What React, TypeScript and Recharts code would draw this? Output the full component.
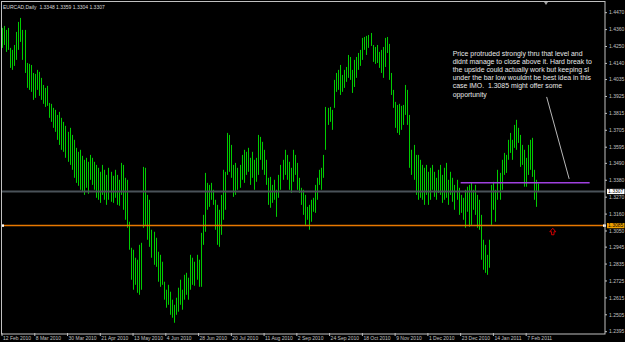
import { ComposedChart, Bar, XAxis, YAxis, ReferenceLine, ReferenceDot } from 'recharts';

const SYMBOL = 'EURCAD,Daily';
const LAST_BAR = ['1.3348', '1.3359', '1.3304', '1.3307'];

const DATE_LABELS = [
    '12 Feb 2010', '8 Mar 2010', '30 Mar 2010', '21 Apr 2010', '13 May 2010', '4 Jun 2010',
    '28 Jun 2010', '20 Jul 2010', '11 Aug 2010', '2 Sep 2010', '24 Sep 2010', '18 Oct 2010',
    '9 Nov 2010', '1 Dec 2010', '23 Dec 2010', '14 Jan 2011', '7 Feb 2011',
];
const LABEL_STEP = 16;

const PRICE_TICKS = [
    1.4470, 1.4360, 1.4250, 1.4140, 1.4035, 1.3925, 1.3815, 1.3705, 1.3595, 1.3490,
    1.3380, 1.3270, 1.3160, 1.3050, 1.2945, 1.2835, 1.2725, 1.2615, 1.2505, 1.2395,
];

// daily highs / lows, Feb 2010 - Feb 2011
const HIGHS = [
    1.4371, 1.4384, 1.4358, 1.4371, 1.4241, 1.4228, 1.4260, 1.4345, 1.4410, 1.4436,
    1.4358, 1.4358, 1.4143, 1.4137, 1.4130, 1.4078, 1.4072, 1.4098, 1.4085, 1.4046,
    1.4000, 1.3981, 1.3994, 1.3883, 1.3877, 1.3851, 1.3838, 1.3805, 1.3825, 1.3786,
    1.3760, 1.3734, 1.3695, 1.3721, 1.3675, 1.3643, 1.3591, 1.3565, 1.3578, 1.3539,
    1.3513, 1.3526, 1.3500, 1.3545, 1.3526, 1.3500, 1.3480, 1.3461, 1.3435, 1.3480,
    1.3448, 1.3415, 1.3461, 1.3435, 1.3409, 1.3448, 1.3415, 1.3383, 1.3493, 1.3480,
    1.3396, 1.3383, 1.3110, 1.2941, 1.2928, 1.2876, 1.2863, 1.2960, 1.2973, 1.3467,
    1.3461, 1.3285, 1.3253, 1.3058, 1.3045, 1.3006, 1.2915, 1.2895, 1.2850, 1.2720,
    1.2668, 1.2700, 1.2655, 1.2603, 1.2570, 1.2616, 1.2681, 1.2733, 1.2668, 1.2765,
    1.2778, 1.2746, 1.2895, 1.2876, 1.2850, 1.2895, 1.2863, 1.3038, 1.3155, 1.3428,
    1.3363, 1.3350, 1.3363, 1.3318, 1.3253, 1.3220, 1.3188, 1.3285, 1.3448, 1.3435,
    1.3688, 1.3675, 1.3610, 1.3480, 1.3493, 1.3461, 1.3480, 1.3545, 1.3578, 1.3565,
    1.3591, 1.3526, 1.3565, 1.3513, 1.3526, 1.3675, 1.3662, 1.3630, 1.3578, 1.3513,
    1.3396, 1.3402, 1.3350, 1.3383, 1.3318, 1.3415, 1.3480, 1.3513, 1.3578, 1.3545,
    1.3500, 1.3461, 1.3578, 1.3545, 1.3493, 1.3396, 1.3331, 1.3318, 1.3285, 1.3207,
    1.3220, 1.3253, 1.3266, 1.3350, 1.3396, 1.3448, 1.3461, 1.3545, 1.3857, 1.3851,
    1.3857, 1.3838, 1.4033, 1.4078, 1.4098, 1.4130, 1.4065, 1.4098, 1.4117, 1.4195,
    1.4182, 1.4098, 1.4163, 1.4182, 1.4208, 1.4228, 1.4306, 1.4312, 1.4319, 1.4325,
    1.4338, 1.4260, 1.4247, 1.4260, 1.4215, 1.4228, 1.4247, 1.4306, 1.4312, 1.4267,
    1.4078, 1.3968, 1.3890, 1.3870, 1.3877, 1.3864, 1.3870, 1.4000, 1.3968, 1.3805,
    1.3578, 1.3610, 1.3545, 1.3545, 1.3513, 1.3480, 1.3461, 1.3480, 1.3435, 1.3461,
    1.3480, 1.3435, 1.3396, 1.3448, 1.3480, 1.3415, 1.3461, 1.3493, 1.3383, 1.3435,
    1.3396, 1.3350, 1.3383, 1.3331, 1.3285, 1.3266, 1.3318, 1.3338, 1.3350, 1.3363,
    1.3318, 1.3350, 1.3285, 1.3253, 1.3155, 1.2993, 1.2960, 1.2895, 1.2993, 1.3350,
    1.3370, 1.3318, 1.3448, 1.3428, 1.3513, 1.3558, 1.3545, 1.3643, 1.3688, 1.3643,
    1.3740, 1.3773, 1.3721, 1.3675, 1.3610, 1.3578, 1.3526, 1.3610, 1.3643, 1.3656,
    1.3448, 1.3383, 1.3359,
];

const LOWS = [
    1.4241, 1.4260, 1.4215, 1.4228, 1.4111, 1.4098, 1.4124, 1.4163, 1.4228, 1.4280,
    1.4163, 1.4078, 1.3981, 1.3968, 1.3955, 1.3903, 1.3916, 1.3968, 1.3929, 1.3903,
    1.3877, 1.3857, 1.3864, 1.3786, 1.3760, 1.3721, 1.3695, 1.3643, 1.3610, 1.3578,
    1.3565, 1.3526, 1.3500, 1.3480, 1.3448, 1.3396, 1.3363, 1.3344, 1.3318, 1.3305,
    1.3285, 1.3331, 1.3292, 1.3383, 1.3350, 1.3318, 1.3266, 1.3253, 1.3233, 1.3285,
    1.3253, 1.3220, 1.3253, 1.3240, 1.3233, 1.3266, 1.3220, 1.3214, 1.3285, 1.3188,
    1.3123, 1.3071, 1.2928, 1.2733, 1.2668, 1.2700, 1.2648, 1.2635, 1.2668, 1.3071,
    1.3090, 1.2993, 1.2947, 1.2876, 1.2830, 1.2817, 1.2720, 1.2687, 1.2700, 1.2603,
    1.2551, 1.2570, 1.2505, 1.2486, 1.2453, 1.2505, 1.2525, 1.2570, 1.2538, 1.2603,
    1.2635, 1.2603, 1.2668, 1.2700, 1.2694, 1.2733, 1.2687, 1.2687, 1.2960, 1.3045,
    1.3188, 1.3207, 1.3253, 1.3220, 1.3058, 1.2960, 1.2947, 1.3025, 1.3123, 1.3188,
    1.3415, 1.3435, 1.3396, 1.3272, 1.3285, 1.3318, 1.3331, 1.3383, 1.3363, 1.3415,
    1.3435, 1.3350, 1.3396, 1.3318, 1.3370, 1.3415, 1.3513, 1.3448, 1.3415, 1.3350,
    1.3220, 1.3201, 1.3233, 1.3253, 1.3142, 1.3266, 1.3318, 1.3383, 1.3415, 1.3383,
    1.3318, 1.3298, 1.3370, 1.3415, 1.3318, 1.3298, 1.3220, 1.3155, 1.3090, 1.3123,
    1.3058, 1.3110, 1.3175, 1.3168, 1.3253, 1.3350, 1.3318, 1.3396, 1.3578, 1.3740,
    1.3760, 1.3708, 1.3851, 1.3955, 1.3968, 1.3935, 1.3955, 1.3981, 1.4020, 1.4046,
    1.4033, 1.3948, 1.3987, 1.4046, 1.4098, 1.4124, 1.4163, 1.4228, 1.4195, 1.4241,
    1.4254, 1.4150, 1.4137, 1.4143, 1.4111, 1.4078, 1.4046, 1.4117, 1.4208, 1.4033,
    1.3935, 1.3851, 1.3721, 1.3688, 1.3675, 1.3708, 1.3740, 1.3805, 1.3740, 1.3461,
    1.3415, 1.3383, 1.3285, 1.3253, 1.3266, 1.3253, 1.3220, 1.3285, 1.3220, 1.3253,
    1.3318, 1.3272, 1.3253, 1.3298, 1.3285, 1.3233, 1.3253, 1.3266, 1.3220, 1.3285,
    1.3240, 1.3188, 1.3253, 1.3155, 1.3168, 1.3123, 1.3071, 1.3175, 1.3078, 1.3090,
    1.3188, 1.3155, 1.3071, 1.3058, 1.2863, 1.2798, 1.2778, 1.2765, 1.2811, 1.3090,
    1.3188, 1.3110, 1.3253, 1.3253, 1.3318, 1.3415, 1.3428, 1.3513, 1.3558, 1.3513,
    1.3591, 1.3578, 1.3623, 1.3467, 1.3480, 1.3338, 1.3338, 1.3415, 1.3448, 1.3402,
    1.3253, 1.3207, 1.3304,
];

const EMPTY_SLOTS = 32; // chart shift on the right
const LAST_PRICE = 1.3307;
const ALERT_PRICE = 1.3085;
const LEVEL = { price: 1.3363, from: 224, to: 287 };
const TREND = [{ x: 266, y: 1.3922 }, { x: 277, y: 1.3389 }];
const ARROW = { x: 269, y: 1.3045 };

const NOTE_LINES = [
    'Price protruded strongly thru that level and',
    'didnt manage to close above it. Hard break to',
    'the upside could actually work but keeping sl',
    'under the bar low wouldnt be best idea in this',
    'case IMO.  1.3085 might offer some',
    'opportunity',
];

const GREEN = '#00cc00';
const AXIS = '#c0c0c0';
const FONT = 'Liberation Sans, Arial, sans-serif';

const data = [
    ...HIGHS.map((h, i) => ({ i, range: [LOWS[i], h] })),
    ...Array.from({ length: EMPTY_SLOTS }, (_, k) => ({ i: HIGHS.length + k, range: null })),
];

const HLBar = (props: any) => {
    const { x, y, width, height } = props;
    if (y == null || isNaN(y)) return null;
    const cx = Math.round(x + width / 2) + 0.5;
    return <line x1={cx} x2={cx} y1={y} y2={y + Math.max(height, 1)} stroke={GREEN} strokeWidth={1} />;
};

const XTick = ({ x, y, payload }: any) => {
    const label = DATE_LABELS[payload.value / LABEL_STEP];
    if (!label) return null;
    return (
        <g>
            <line x1={x} x2={x} y1={y - 1} y2={y + 2} stroke={AXIS} />
            <text x={x + 1} y={y + 5.5} fill={AXIS} fontSize={5} fontFamily={FONT}>{label}</text>
        </g>
    );
};

const YTick = ({ x, y, payload }: any) => (
    <g>
        <line x1={x} x2={x + 2} y1={y} y2={y} stroke={AXIS} />
        <text x={x + 4} y={y + 1.8} fill={AXIS} fontSize={5} fontFamily={FONT}>{payload.value.toFixed(4)}</text>
    </g>
);

const PriceTag = ({ viewBox, text, bg, ends }: any) => {
    const { x, y, width } = viewBox;
    const right = x + width;
    return (
        <g>
            {ends && <rect x={x} y={y - 1.2} width={3} height={2.4} fill="#ffffff" />}
            {ends && <rect x={right - 2} y={y - 1.2} width={3} height={2.4} fill="#ffffff" />}
            <rect x={right + 2} y={y - 2.6} width={17.5} height={5.2} fill={bg} />
            <text x={right + 3} y={y + 1.8} fill="#000" fontSize={5} fontFamily={FONT}>{text}</text>
        </g>
    );
};

const Arrow = ({ cx, cy }: any) => (
    <path
        d={`M${cx},${cy - 3.5} L${cx + 3},${cy} L${cx + 1.2},${cy} L${cx + 1.2},${cy + 3} L${cx - 1.2},${cy + 3} L${cx - 1.2},${cy} L${cx - 3},${cy} Z`}
        fill="none"
        stroke="#d00000"
        strokeWidth={1}
    />
);

export default function App() {
    return (
        <div style={{ position: 'absolute', left: 0, top: 0, width: 625, height: 342, background: '#000', overflow: 'hidden' }}>
            <ComposedChart width={625} height={342} data={data} margin={{ top: 1, right: 0, bottom: 0, left: 1 }} barCategoryGap={0}>
                <XAxis
                    dataKey="i"
                    type="category"
                    interval={LABEL_STEP - 1}
                    height={8}
                    tickSize={0}
                    tickMargin={0}
                    axisLine={false}
                    tick={<XTick />}
                />
                <YAxis
                    orientation="right"
                    type="number"
                    domain={[1.2380, 1.4546]}
                    allowDataOverflow
                    ticks={PRICE_TICKS}
                    interval={0}
                    width={20}
                    tickSize={0}
                    tickMargin={0}
                    axisLine={false}
                    tick={<YTick />}
                />
                <ReferenceLine y={LAST_PRICE} stroke="#4a5259" strokeWidth={2} label={<PriceTag text="1.3307" bg="#ffffff" />} />
                <ReferenceLine y={ALERT_PRICE} stroke="#e87800" strokeWidth={1.5} label={<PriceTag text="1.3085" bg="#f0a000" ends />} />
                <ReferenceLine segment={[{ x: LEVEL.from, y: LEVEL.price }, { x: LEVEL.to, y: LEVEL.price }]} stroke="#a040e0" strokeWidth={1.5} />
                <ReferenceLine segment={TREND} stroke="#b8b8b8" strokeWidth={1} />
                <ReferenceDot x={ARROW.x} y={ARROW.y} shape={<Arrow />} />
                <Bar dataKey="range" shape={<HLBar />} isAnimationActive={false} />
            </ComposedChart>
            <svg width={625} height={342} style={{ position: 'absolute', left: 0, top: 0, pointerEvents: 'none' }}>
                <rect x={1.5} y={1.5} width={603.5} height={332.5} fill="none" stroke={AXIS} strokeWidth={1} />
                <path d="M544,2 L548,2 L546,5 Z" fill="#a0a0a0" />
                <text x={3} y={8.5} fill="#d8d8d8" fontSize={5} fontFamily={FONT} xmlSpace="preserve">
                    {`${SYMBOL}  ${LAST_BAR.join(' ')}`}
                </text>
                {NOTE_LINES.map((line, k) => (
                    <text key={k} x={452.7} y={55.5 + k * 8.2} fill="#e8e8e8" fontSize={6.9} fontFamily={FONT} xmlSpace="preserve">{line}</text>
                ))}
            </svg>
        </div>
    );
}
